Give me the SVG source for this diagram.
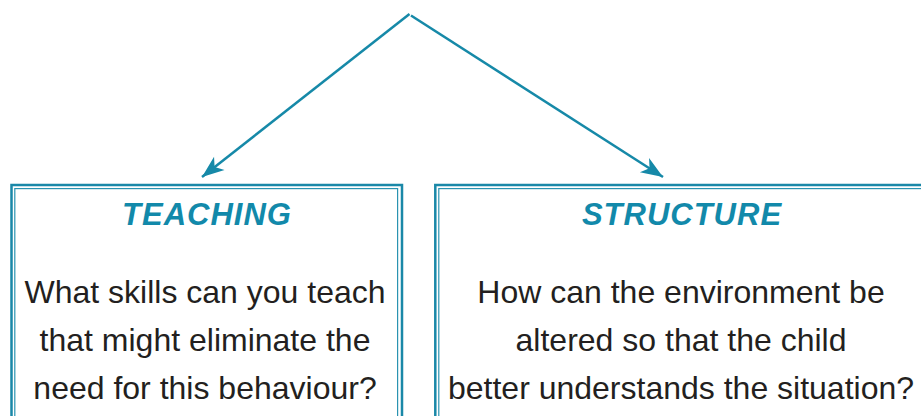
<svg xmlns="http://www.w3.org/2000/svg" width="921" height="416" viewBox="0 0 921 416">
  <style>
    .outer { fill: none; stroke: #1a88a8; stroke-width: 2.5; }
    .inner { fill: none; stroke: #2a93b1; stroke-width: 1.2; }
    .title { font-family: "Liberation Sans", Arial, sans-serif; font-size: 31px; font-weight: bold; font-style: italic; fill: #1289aa; text-anchor: middle; letter-spacing: 1px; }
    .body { font-family: "Liberation Sans", Arial, sans-serif; font-size: 32px; fill: #231f20; text-anchor: middle; }
    .conn { stroke: #1689a8; stroke-width: 2.5; fill: none; }
  </style>
  <defs>
    <marker id="arrow" markerUnits="userSpaceOnUse" markerWidth="30" markerHeight="24" viewBox="-24 -12 30 24" refX="0" refY="0" orient="auto">
      <path d="M0,0 L-22,-8.5 L-16,0 L-22,8.5 Z" fill="#1689a8"/>
    </marker>
  </defs>
  <rect width="921" height="416" fill="#ffffff"/>
  <g id="connectors">
    <line class="conn" x1="409.5" y1="14" x2="202" y2="177" marker-end="url(#arrow)"/>
    <line class="conn" x1="411" y1="15.5" x2="663" y2="177" marker-end="url(#arrow)"/>
  </g>
  <g id="teaching">
    <rect class="outer" x="11.5" y="185" width="390.5" height="260"/>
    <rect class="inner" x="14.8" y="188.6" width="382.8" height="260"/>
    <text class="title" x="207" y="225">TEACHING</text>
    <text class="body" x="205" y="303">What skills can you teach</text>
    <text class="body" x="205" y="351">that might eliminate the</text>
    <text class="body" x="205" y="399">need for this behaviour?</text>
  </g>
  <g id="structure">
    <rect class="outer" x="435.3" y="185" width="520" height="260"/>
    <rect class="inner" x="438.8" y="188.6" width="520" height="260"/>
    <text class="title" x="682" y="225">STRUCTURE</text>
    <text class="body" x="681" y="303">How can the environment be</text>
    <text class="body" x="681" y="351">altered so that the child</text>
    <text class="body" x="681" y="399">better understands the situation?</text>
  </g>
</svg>
